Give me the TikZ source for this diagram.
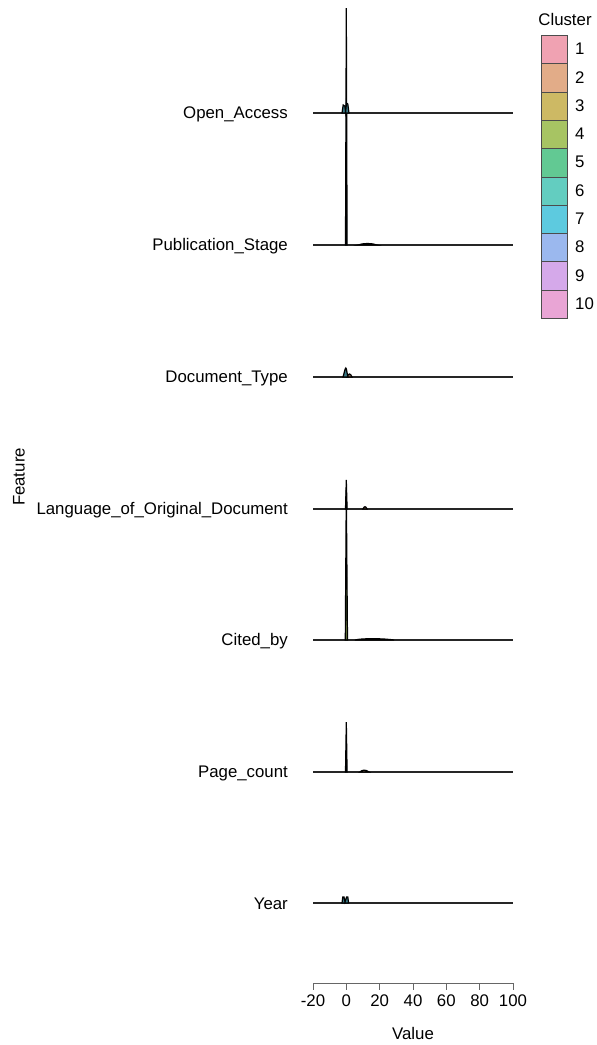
\documentclass[tikz,border=0pt]{standalone}
\usepackage{fontspec}
\setmainfont{Liberation Sans}
\definecolor{c1}{HTML}{F0A2B2}
\definecolor{c2}{HTML}{E2AC88}
\definecolor{c3}{HTML}{CDB964}
\definecolor{c4}{HTML}{A7C463}
\definecolor{c5}{HTML}{62C993}
\definecolor{c6}{HTML}{63CDC0}
\definecolor{c7}{HTML}{5DCADF}
\definecolor{c8}{HTML}{9BB8EE}
\definecolor{c9}{HTML}{D5A9EA}
\definecolor{c10}{HTML}{E9A5D5}
\tikzset{
  fnt/.style={font=\fontsize{16.8}{19}\selectfont},
  lab/.style={fnt,anchor=east,inner sep=0pt},
  tick/.style={fnt,anchor=north,inner sep=0pt},
  base/.style={line width=1.4pt,draw=black!85},
  dens/.style={line width=1.2pt,draw=black,fill=#1!60!black},
  legbox/.style={draw=black!70,line width=0.8pt,fill=#1,minimum width=26pt,minimum height=28.3pt,inner sep=0pt,anchor=north west},
  legtxt/.style={fnt,anchor=west,inner sep=0pt}
}
\begin{document}
\begin{tikzpicture}[x=1pt,y=-1pt]
\useasboundingbox (0,0) rectangle (597,1045);
% baselines
\foreach \b in {113,245,377,509,640,772,903}{\draw[base] (313,\b) -- (513,\b);}
% labels
\node[lab] (oa) at (288,114) {Open\_Access};
\node[lab] (ps) at (288,246) {Publication\_Stage};
\node[lab] (dt) at (288,378) {Document\_Type};
\node[lab] (lg) at (288,510) {Language\_of\_Original\_Document};
\node[lab] (cb) at (288,641) {Cited\_by};
\node[lab] (pc) at (288,773) {Page\_count};
\node[lab] (yr) at (288,904) {Year};
\node[fnt,inner sep=0pt,rotate=90] (feat) at (19,477) {Feature};
% Year
\draw[dens=c7] (342,903) -- (342.8,897) -- (344,897) -- (345,902) -- (346.6,897) -- (347.8,897) -- (348.6,903) -- cycle;
% Page_count
\draw[dens=c2] (360,772) .. controls (362,769.5) and (366,769.5) .. (369,772) -- cycle;
\draw[dens=c7] (345.5,772) -- (346.3,722) -- (347.1,772) -- cycle;
% Cited_by
\draw[dens=c2] (355,640) .. controls (362,638) and (385,638.5) .. (394,640) -- cycle;
\draw[dens=c4] (345.3,640) -- (346.3,490) -- (347.5,640) -- cycle;
% Language
\draw[dens=c2] (363,509) .. controls (364,506) and (366,506) .. (367,509) -- cycle;
\draw[dens=c7] (345.5,509) -- (346.3,480) -- (347.1,509) -- cycle;
% Document_Type
\draw[dens=c2] (347,377) .. controls (348.5,373) and (350.5,373) .. (352,377) -- cycle;
\draw[dens=c7] (343,377) .. controls (344,374) and (345,368) .. (345.8,368) .. controls (346.6,368) and (347,374) .. (348,377) -- cycle;
% Publication_Stage
\draw[dens=c2] (358,245) .. controls (363,243) and (372,243) .. (377,245) -- cycle;
\draw[dens=c7] (345.5,245) -- (346.3,8) -- (347.1,245) -- cycle;
% Open_Access
\draw[dens=c7] (342,113) -- (343.2,105) -- (344.8,106) -- (345.6,112) -- (346.5,103) -- (347.8,104) -- (349,113) -- cycle;
% axis
\draw[line width=0.8pt,draw=black!60] (313,983) -- (513,983);
\foreach \v/\x in {-20/313,0/346.3,20/379.7,40/413,60/446.3,80/479.7,100/513}{
  \draw[line width=0.8pt,draw=black!60] (\x,983) -- (\x,990);
  \node[tick] (t\v) at (\x,995) {\v};
}
\node[fnt,inner sep=0pt] (val) at (413,1033) {Value};
% legend
\node[fnt,anchor=center,inner sep=0pt] (lt) at (565,19) {Cluster};
\foreach \i in {1,...,10}{
  \node[legbox=c\i] (k\i) at (541,{35+(\i-1)*28.3}) {};
  \node[legtxt] (n\i) at (575,{49+(\i-1)*28.3}) {\i};
}
\end{tikzpicture}
\end{document}
